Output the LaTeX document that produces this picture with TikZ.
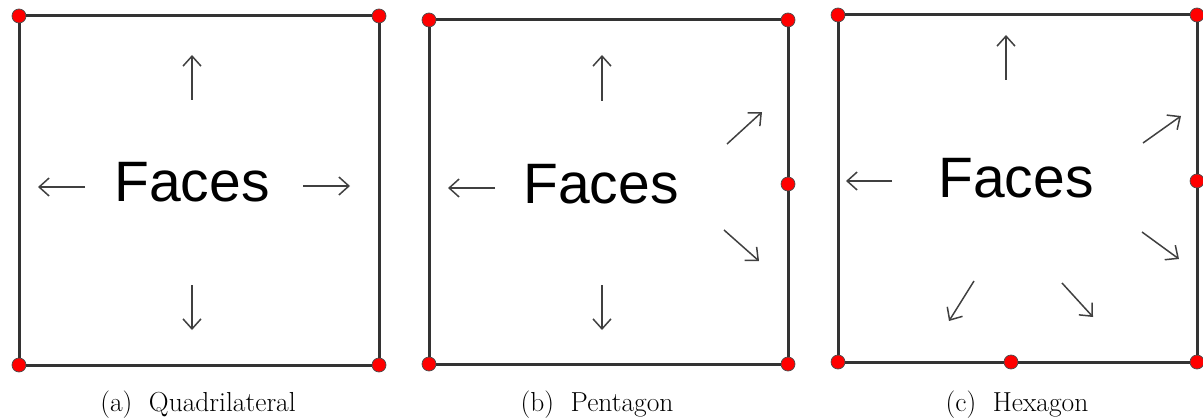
\documentclass[tikz,border=0pt]{standalone}
\usepackage{fontspec}
\usepackage{tikz}
\usetikzlibrary{arrows.meta}
\newfontfamily\facefont{Liberation Sans}

\begin{document}
\begin{tikzpicture}[x=1pt,y=-1pt,
    vert/.style={circle,fill=red,draw=black!70,line width=0.7pt,inner sep=0pt,minimum size=14pt},
    edge/.style={draw=black!80,line width=3pt},
    flow/.style={draw=black!75,line width=1.5pt,-{Straight Barb[length=10pt,width=18pt]}},
    faces/.style={font=\facefont\fontsize{57}{62}\selectfont,anchor=base},
    capt/.style={font=\fontsize{27.5}{32}\selectfont,anchor=base}]
    \useasboundingbox (0,0) rectangle (1203,420);

% (a) quadrilateral
    \node [vert] (a1) at (19,16) {};
    \node [vert] (a2) at (379,16) {};
    \node [vert] (a3) at (379,365) {};
    \node [vert] (a4) at (19,365) {};
    \draw[edge] (a1)--(a2);
    \draw[edge] (a2)--(a3);
    \draw[edge] (a3)--(a4);
    \draw[edge] (a4)--(a1);
    \node [faces] (fa) at (192,201) {Faces};
    \draw[flow] (192,100)--(192,55);
    \draw[flow] (192,285)--(192,330);
    \draw[flow] (85,187)--(38,187);
    \draw[flow] (303,186)--(350,186);
    \node [capt] (ca) at (198,411) {(a)\ \ Quadrilateral};

% (b) pentagon
    \node [vert] (b1) at (429,20) {};
    \node [vert] (b2) at (788,20) {};
    \node [vert] (b3) at (788,184) {};
    \node [vert] (b4) at (788,364) {};
    \node [vert] (b5) at (429,364) {};
    \draw[edge] (b1)--(b2);
    \draw[edge] (b2)--(b3);
    \draw[edge] (b3)--(b4);
    \draw[edge] (b4)--(b5);
    \draw[edge] (b5)--(b1);
    \node [faces] (fb) at (601,203) {Faces};
    \draw[flow] (602,101)--(602,55);
    \draw[flow] (602,285)--(602,330);
    \draw[flow] (495,188)--(448,188);
    \draw[flow] (727,144)--(762,112);
    \draw[flow] (724,230)--(759,261);
    \node [capt] (cb) at (597,411) {(b)\ \ Pentagon};

% (c) hexagon
    \node [vert] (c1) at (838,15) {};
    \node [vert] (c2) at (1197,15) {};
    \node [vert] (c3) at (1197,181) {};
    \node [vert] (c4) at (1197,362) {};
    \node [vert] (c5) at (1011,362) {};
    \node [vert] (c6) at (838,362) {};
    \draw[edge] (c1)--(c2);
    \draw[edge] (c2)--(c3);
    \draw[edge] (c3)--(c4);
    \draw[edge] (c4)--(c5);
    \draw[edge] (c5)--(c6);
    \draw[edge] (c6)--(c1);
    \node [faces] (fc) at (1016,197) {Faces};
    \draw[flow] (1006,80)--(1006,35);
    \draw[flow] (892,181)--(846,181);
    \draw[flow] (1143,143)--(1181,116);
    \draw[flow] (1142,232)--(1179,259);
    \draw[flow] (974,281)--(949,321);
    \draw[flow] (1062,283)--(1093,317);
    \node [capt] (cc) at (1017,411) {(c)\ \ Hexagon};
\end{tikzpicture}
\end{document}
